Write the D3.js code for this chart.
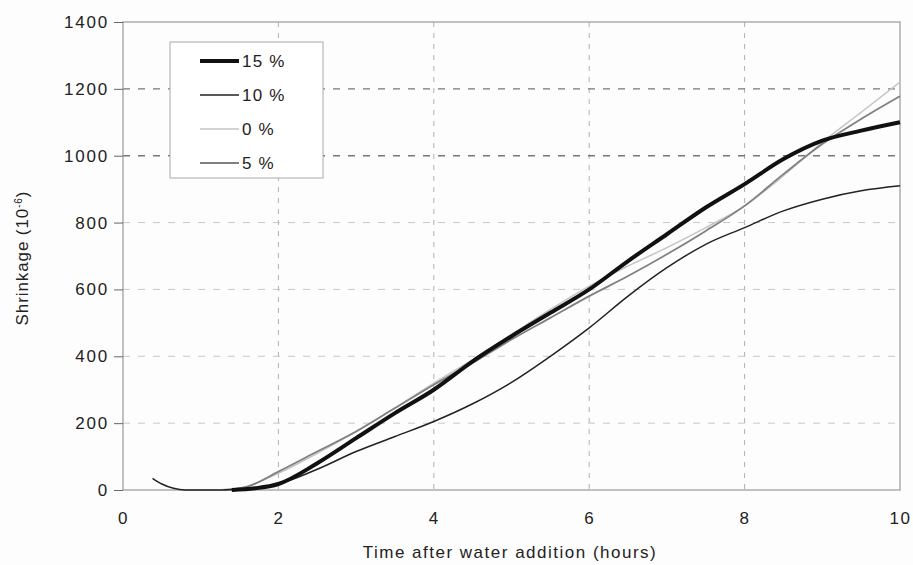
<!DOCTYPE html>
<html>
<head>
<meta charset="utf-8">
<script src="https://cdn.jsdelivr.net/npm/d3@7"></script>
<style>
  body { margin: 0; background: #fdfdfd; }
  text { font-family: "Liberation Sans", Arial, sans-serif; fill: #222; }
</style>
</head>
<body>
<div id="chart-container"></div>
<script>
const xTicks = [0, 2, 4, 6, 8, 10];
const yTicks = [0, 200, 400, 600, 800, 1000, 1200, 1400];

const seriesNames = ["15 %", "10 %", "0 %", "5 %"];

const hours15 = [1.4, 1.7, 2, 2.5, 3, 3.5, 4, 4.5, 5, 5.5, 6, 6.5, 7, 7.5, 8, 8.5, 9, 9.5, 10];
const shrink15 = [0, 5, 18, 80, 155, 230, 300, 385, 460, 530, 600, 685, 765, 845, 915, 990, 1045, 1075, 1100];

const hours10 = [0.38, 0.5, 0.65, 0.8, 1.2, 1.5, 2, 2.5, 3, 3.5, 4, 4.5, 5, 5.5, 6, 6.5, 7, 7.5, 8, 8.5, 9, 9.5, 10];
const shrink10 = [35, 18, 5, 0, 0, 3, 18, 62, 115, 160, 205, 258, 322, 400, 485, 580, 665, 735, 785, 835, 870, 895, 910];

const hours0 = [1.2, 1.5, 2, 2.5, 3, 3.5, 4, 4.5, 5, 5.5, 6, 6.5, 7, 7.5, 8, 8.5, 9, 9.5, 10];
const shrink0 = [0, 5, 50, 110, 175, 245, 320, 390, 465, 540, 610, 670, 725, 785, 850, 940, 1040, 1130, 1220];

const hours5 = [1.3, 1.6, 2, 2.5, 3, 3.5, 4, 4.5, 5, 5.5, 6, 6.5, 7, 7.5, 8, 8.5, 9, 9.5, 10];
const shrink5 = [0, 10, 55, 115, 175, 245, 315, 380, 450, 515, 580, 640, 705, 775, 850, 945, 1035, 1110, 1178];

const series = [
    { name: seriesNames[0], xs: hours15, ys: shrink15, color: "#111", width: 4 },
    { name: seriesNames[1], xs: hours10, ys: shrink10, color: "#222", width: 1.5 },
    { name: seriesNames[2], xs: hours0, ys: shrink0, color: "#c4c4c4", width: 1.5 },
    { name: seriesNames[3], xs: hours5, ys: shrink5, color: "#808080", width: 1.8 }
];

const width = 913, height = 565;
const margin = { top: 22, right: 13, bottom: 75, left: 123 };
const innerW = width - margin.left - margin.right,
    innerH = height - margin.top - margin.bottom;

const svg = d3.select("#chart-container").append("svg")
    .attr("width", width)
    .attr("height", height);

const g = svg.append("g")
    .attr("transform", "translate(" + margin.left + "," + margin.top + ")");

const x = d3.scaleLinear().domain([0, 10]).range([0, innerW]);
const y = d3.scaleLinear().domain([0, 1400]).range([innerH, 0]);

// grid
g.selectAll(".vgrid")
    .data(xTicks.filter(function (d) { return d > 0 && d < 10; }))
    .enter().append("line")
    .attr("x1", function (d) { return x(d); })
    .attr("x2", function (d) { return x(d); })
    .attr("y1", 0).attr("y2", innerH)
    .attr("stroke", "#b0b0b0")
    .attr("stroke-width", 1)
    .attr("stroke-dasharray", "5,6");

g.selectAll(".hgrid")
    .data(yTicks.filter(function (d) { return d > 0 && d < 1400; }))
    .enter().append("line")
    .attr("x1", 0).attr("x2", innerW)
    .attr("y1", function (d) { return y(d); })
    .attr("y2", function (d) { return y(d); })
    .attr("stroke", function (d) { return d >= 1000 ? "#777" : "#c8c8c8"; })
    .attr("stroke-width", function (d) { return d >= 1000 ? 1.4 : 1; })
    .attr("stroke-dasharray", "7,8");

// frame
g.append("rect")
    .attr("width", innerW).attr("height", innerH)
    .attr("fill", "none")
    .attr("stroke", "#999")
    .attr("stroke-width", 1.2);

// y axis
const yAxis = d3.axisLeft(y).tickValues(yTicks).tickSize(9).tickPadding(5).tickFormat(d3.format("d"));
const ya = g.append("g").call(yAxis);
ya.select(".domain").remove();
ya.selectAll("line").attr("stroke", "#666");
ya.selectAll("text")
    .style("font-size", "17px")
    .style("letter-spacing", "1.8px")
    .attr("fill", "#222");

// x axis
const xAxis = d3.axisBottom(x).tickValues(xTicks).tickSize(0).tickPadding(22);
const xa = g.append("g").attr("transform", "translate(0," + innerH + ")").call(xAxis);
xa.select(".domain").remove();
xa.selectAll("text")
    .style("font-size", "17px")
    .style("letter-spacing", "1.5px")
    .attr("fill", "#222");

// lines
const line = d3.line()
    .x(function (d) { return x(d[0]); })
    .y(function (d) { return y(d[1]); })
    .curve(d3.curveMonotoneX);

g.selectAll(".series")
    .data([series[2], series[3], series[1], series[0]])
    .enter().append("path")
    .attr("class", "series")
    .attr("fill", "none")
    .attr("stroke", function (d) { return d.color; })
    .attr("stroke-width", function (d) { return d.width; })
    .attr("stroke-linejoin", "round")
    .attr("d", function (d) { return line(d.xs.map(function (v, i) { return [v, d.ys[i]]; })); });

// legend
const legend = svg.append("g").attr("transform", "translate(170,42)");
legend.append("rect")
    .attr("width", 153).attr("height", 136)
    .attr("fill", "#fff")
    .attr("stroke", "#aaa")
    .attr("stroke-width", 1);

const item = legend.selectAll(".item")
    .data(series)
    .enter().append("g")
    .attr("class", "item")
    .attr("transform", function (d, i) { return "translate(0," + (19 + i * 34) + ")"; });

item.append("line")
    .attr("x1", 30).attr("x2", 69)
    .attr("y1", 0).attr("y2", 0)
    .attr("stroke", function (d) { return d.color; })
    .attr("stroke-width", function (d) { return d.width; });

item.append("text")
    .attr("x", 72)
    .attr("dy", "0.36em")
    .style("font-size", "17px")
    .style("letter-spacing", "1.2px")
    .text(function (d) { return d.name; });

// axis titles
svg.append("text")
    .attr("x", 510).attr("y", 558)
    .attr("text-anchor", "middle")
    .style("font-size", "17px")
    .style("letter-spacing", "1.5px")
    .text("Time after water addition (hours)");

const yt = svg.append("text")
    .attr("transform", "translate(28,258) rotate(-90)")
    .attr("text-anchor", "middle")
    .style("font-size", "17px")
    .style("letter-spacing", "0.9px");
yt.append("tspan").text("Shrinkage (10");
yt.append("tspan").attr("dy", "-6").style("font-size", "10px").text("-6");
yt.append("tspan").attr("dy", "6").text(")");
</script>
</body>
</html>
